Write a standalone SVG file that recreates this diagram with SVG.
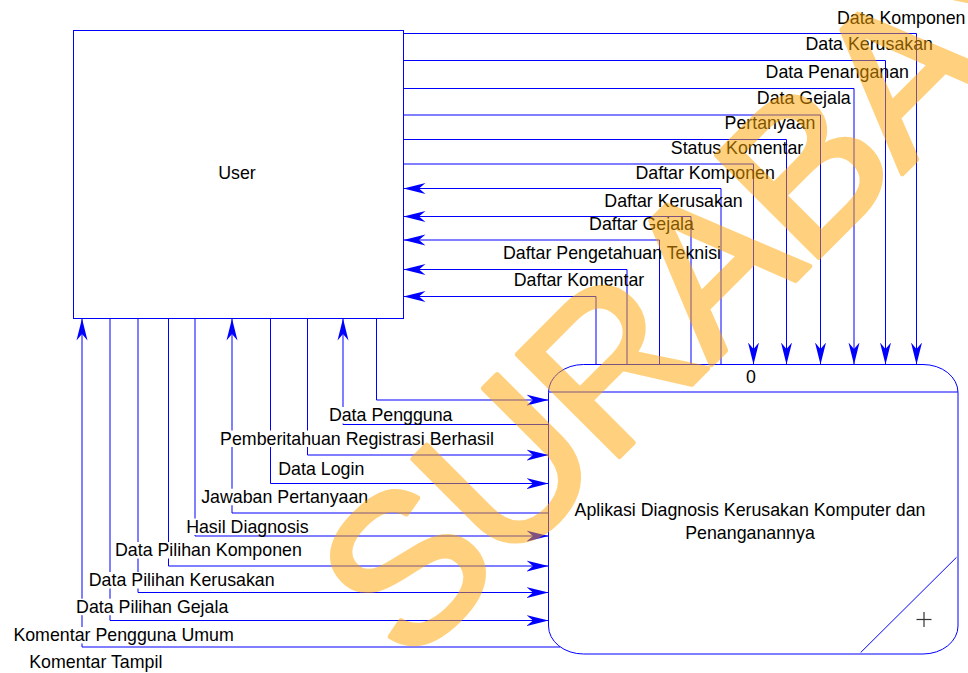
<svg xmlns="http://www.w3.org/2000/svg" width="968" height="673" viewBox="0 0 968 673">
<defs>
<style>
.ln{fill:none;stroke:#0000FF;stroke-width:1}
.nd{fill:#fff;stroke:#0000FF;stroke-width:1}
text{font-family:"Liberation Sans",Arial,sans-serif;font-size:17.8px;fill:#000}
.lb{text-anchor:middle}
.bg{fill:#fff}
.wm{font-family:"Liberation Sans",Arial,sans-serif;font-size:210px;letter-spacing:-5px;fill:#FFA500;stroke:#FFA500;stroke-width:5;stroke-linejoin:round;opacity:0.5}
</style>
<marker id="ah" viewBox="-22 -6 23 12" refX="0" refY="0" markerWidth="23" markerHeight="12" markerUnits="userSpaceOnUse" orient="auto">
<path d="M0,0 L-22,-5.5 L-15.5,0 L-22,5.5 Z" fill="#0000FF"/>
</marker>
</defs>
<rect width="968" height="673" fill="#fff"/>

<g id="user">
<rect class="nd" x="73.5" y="30.5" width="330" height="288"/>
<text class="lb" x="237" y="179">User</text>
</g>

<g id="process">
<rect class="nd" x="548.5" y="364.5" width="409.5" height="289.5" rx="35" ry="28"/>
<line class="ln" x1="548.5" y1="392" x2="958" y2="392"/>
<text class="lb" x="751" y="382.7">0</text>
<text class="lb" x="750" y="516">Aplikasi Diagnosis Kerusakan Komputer dan</text>
<text class="lb" x="750" y="539">Penanganannya</text>
<line class="ln" x1="860.7" y1="652.5" x2="956.5" y2="557.3"/>
<line x1="916.5" y1="619.5" x2="931.5" y2="619.5" stroke="#333" stroke-width="1.2"/>
<line x1="924" y1="612" x2="924" y2="627" stroke="#333" stroke-width="1.2"/>
</g>

<g id="connectors">
<g id="connector-lines">
<path class="ln" marker-end="url(#ah)" d="M403.5,33.5 H916.5 V364.5"/>
<path class="ln" marker-end="url(#ah)" d="M403.5,60.5 H885.5 V364.5"/>
<path class="ln" marker-end="url(#ah)" d="M403.5,88.5 H854 V364.5"/>
<path class="ln" marker-end="url(#ah)" d="M403.5,115 H820.5 V364.5"/>
<path class="ln" marker-end="url(#ah)" d="M403.5,139.5 H786.5 V364.5"/>
<path class="ln" marker-end="url(#ah)" d="M403.5,164 H753.5 V364.5"/>
<path class="ln" marker-end="url(#ah)" d="M721,364.5 V188.5 H403.5"/>
<path class="ln" marker-end="url(#ah)" d="M691,364.5 V216.5 H403.5"/>
<path class="ln" marker-end="url(#ah)" d="M659.5,364.5 V240 H403.5"/>
<path class="ln" marker-end="url(#ah)" d="M627,364.5 V269.5 H403.5"/>
<path class="ln" marker-end="url(#ah)" d="M596,364.5 V296.5 H403.5"/>
<path class="ln" marker-end="url(#ah)" d="M376.5,318.5 V400 H548.5"/>
<path class="ln" marker-end="url(#ah)" d="M548.5,424.5 H343 V318.5"/>
<path class="ln" marker-end="url(#ah)" d="M307.5,318.5 V455 H548.5"/>
<path class="ln" marker-end="url(#ah)" d="M270.5,318.5 V483.5 H548.5"/>
<path class="ln" marker-end="url(#ah)" d="M548.5,513 H232 V318.5"/>
<path class="ln" marker-end="url(#ah)" d="M195,318.5 V536 H548.5"/>
<path class="ln" marker-end="url(#ah)" d="M168.5,318.5 V566 H548.5"/>
<path class="ln" marker-end="url(#ah)" d="M138,318.5 V592.5 H548.5"/>
<path class="ln" marker-end="url(#ah)" d="M110,318.5 V620.5 H548.5"/>
<path class="ln" marker-end="url(#ah)" d="M560,647 H82 V318.5"/>
</g>
<g id="connector-labels">
<text class="lb" x="901.2" y="23.5">Data Komponen</text>
<text class="lb" x="869.2" y="50">Data Kerusakan</text>
<text class="lb" x="837.3" y="77.5">Data Penanganan</text>
<text class="lb" x="803.8" y="103.5">Data Gejala</text>
<text class="lb" x="770" y="128.5">Pertanyaan</text>
<text class="lb" x="737" y="154">Status Komentar</text>
<text class="lb" x="705.2" y="179.3">Daftar Komponen</text>
<text class="lb" x="673.5" y="206.5">Daftar Kerusakan</text>
<text class="lb" x="641.5" y="229.5">Daftar Gejala</text>
<text class="lb" x="612" y="259.3">Daftar Pengetahuan Teknisi</text>
<text class="lb" x="579" y="286">Daftar Komentar</text>

<rect class="bg" x="328" y="407" width="126" height="16.5"/>
<text class="lb" x="390.7" y="421">Data Pengguna</text>
<rect class="bg" x="219" y="430.5" width="276" height="16.5"/>
<text class="lb" x="357" y="444.5">Pemberitahuan Registrasi Berhasil</text>
<rect class="bg" x="278" y="461" width="87" height="16.5"/>
<text class="lb" x="321.3" y="475">Data Login</text>
<rect class="bg" x="201.5" y="488.7" width="166" height="16.5"/>
<text class="lb" x="284.7" y="502.7">Jawaban Pertanyaan</text>
<rect class="bg" x="186" y="518.5" width="123" height="16.5"/>
<text class="lb" x="247.4" y="532.5">Hasil Diagnosis</text>
<rect class="bg" x="114" y="542" width="189" height="16.5"/>
<text class="lb" x="208.4" y="556">Data Pilihan Komponen</text>
<rect class="bg" x="88.5" y="572" width="186.5" height="16.5"/>
<text class="lb" x="181.7" y="586">Data Pilihan Kerusakan</text>
<rect class="bg" x="76" y="598.7" width="152.5" height="16.5"/>
<text class="lb" x="152.2" y="612.7">Data Pilihan Gejala</text>
<rect class="bg" x="11.5" y="627" width="224" height="16.5"/>
<text class="lb" x="123.6" y="641">Komentar Pengguna Umum</text>
<text class="lb" x="95.8" y="667.7">Komentar Tampil</text>
</g>
</g>

<text class="wm" transform="translate(408 668) rotate(-45)">SURABAYA</text>
</svg>
